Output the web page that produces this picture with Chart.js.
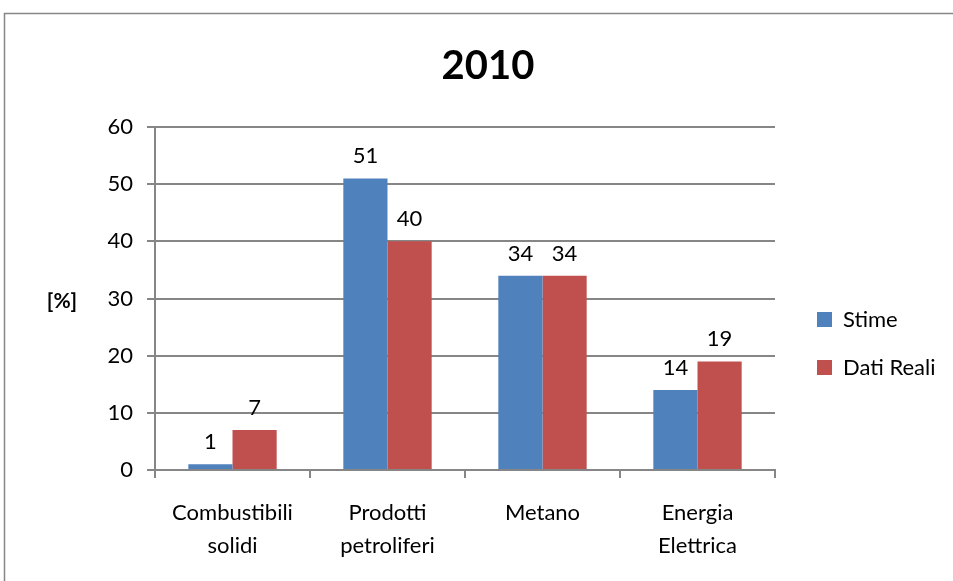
<!DOCTYPE html>
<html>
<head>
<meta charset="utf-8">
<script src="https://cdn.jsdelivr.net/npm/chart.js@4"></script>
<style>
  html, body { margin: 0; padding: 0; background: #fff; }
  #wrap { width: 953px; height: 581px; }
</style>
</head>
<body>
<div id="wrap"><canvas id="grafico" width="953" height="581"></canvas></div>
<script>
const categorie = [['Combustibili', 'solidi'], ['Prodotti', 'petroliferi'], 'Metano', ['Energia', 'Elettrica']];
const stime = [1, 51, 34, 14];
const datiReali = [7, 40, 34, 19];
const yTicks = [0, 10, 20, 30, 40, 50, 60];

const FONT = 'Lato, "Open Sans", sans-serif';
const GRID = '#868686';

// cornice grigia + etichetta [%]
const cornice = {
  id: 'cornice',
  beforeDraw(chart) {
    const ctx = chart.ctx;
    ctx.save();
    ctx.fillStyle = '#fff';
    ctx.fillRect(0, 0, chart.width, chart.height);
    ctx.strokeStyle = GRID;
    ctx.lineWidth = 1.5;
    ctx.strokeRect(4.5, 13.5, chart.width + 20, chart.height + 20);
    ctx.restore();
  },
  afterDraw(chart) {
    const ctx = chart.ctx;
    const area = chart.chartArea;
    ctx.save();
    ctx.font = 'bold 21px ' + FONT;
    ctx.fillStyle = '#000';
    ctx.textAlign = 'center';
    ctx.textBaseline = 'middle';
    ctx.fillText('[%]', 62, (area.top + area.bottom) / 2 + 3);
    ctx.restore();
  }
};

// legenda: larghezza fissa e spostamento come nell'originale
const legendaPos = {
  id: 'legendaPos',
  afterInit(chart) {
    const legend = chart.legend;
    const fit = legend.fit;
    legend.fit = function () {
      fit.call(this);
      this.width = 173;
    };
  },
  afterLayout(chart) {
    const legend = chart.legend;
    legend.left += 16;
    legend.right += 16;
    legend.top += 53;
    legend.bottom += 53;
  }
};

// valori sopra le barre
const etichette = {
  id: 'etichette',
  afterDatasetsDraw(chart) {
    const ctx = chart.ctx;
    ctx.save();
    ctx.font = '22px ' + FONT;
    ctx.fillStyle = '#000';
    ctx.textAlign = 'center';
    ctx.textBaseline = 'alphabetic';
    chart.data.datasets.forEach((ds, i) => {
      chart.getDatasetMeta(i).data.forEach((bar, j) => {
        ctx.fillText(String(ds.data[j]), bar.x, bar.y - 15);
      });
    });
    ctx.restore();
  }
};

new Chart(document.getElementById('grafico').getContext('2d'), {
  type: 'bar',
  data: {
    labels: categorie,
    datasets: [
      { label: 'Stime', data: stime, backgroundColor: '#4F81BD' },
      { label: 'Dati Reali', data: datiReali, backgroundColor: '#C0504D' }
    ]
  },
  options: {
    responsive: false,
    animation: false,
    layout: { padding: { left: 28, right: 5, top: 0, bottom: 0 } },
    datasets: { bar: { categoryPercentage: 0.57, barPercentage: 1 } },
    plugins: {
      title: {
        display: true,
        text: '2010',
        color: '#000',
        font: { family: FONT, size: 40, weight: 'bold', lineHeight: 1.2 },
        padding: { top: 42, bottom: 37 }
      },
      legend: {
        position: 'right',
        labels: {
          color: '#000',
          font: { family: FONT, size: 22 },
          boxWidth: 15,
          boxHeight: 15,
          padding: 26
        }
      },
      tooltip: { enabled: false }
    },
    scales: {
      x: {
        offset: true,
        grid: { display: true, drawOnChartArea: false, offset: true, color: GRID, lineWidth: 2, tickLength: 8 },
        border: { color: GRID, width: 2 },
        ticks: { color: '#000', font: { family: FONT, size: 22, lineHeight: 1.5 }, padding: 18.5 }
      },
      y: {
        min: 0,
        max: 60,
        afterBuildTicks: (scale) => { scale.ticks = yTicks.map(v => ({ value: v })); },
        afterFit: (scale) => { scale.width = 127; },
        grid: { color: GRID, lineWidth: 2, tickLength: 8 },
        border: { color: GRID, width: 2 },
        ticks: { color: '#000', font: { family: FONT, size: 22 }, padding: 14 }
      }
    }
  },
  plugins: [cornice, legendaPos, etichette]
});
</script>
</body>
</html>
